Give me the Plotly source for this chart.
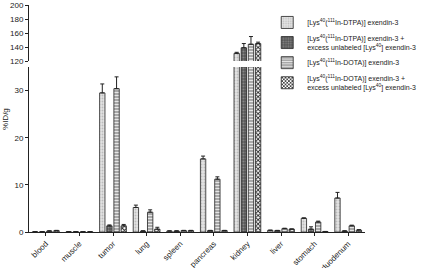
import plotly.graph_objects as go

categories = ["blood", "muscle", "tumor", "lung", "spleen", "pancreas", "kidney", "liver", "stomach", "duodenum"]

dtpa = [0.05, 0.05, 29.5, 5.2, 0.2, 15.5, 131, 0.35, 2.9, 7.2]
dtpa_err = [0.02, 0.0, 1.9, 0.5, 0.05, 0.6, 1.5, 0.05, 0.1, 1.2]
dtpa_block = [0.05, 0.05, 1.3, 0.2, 0.2, 0.3, 139, 0.3, 0.6, 0.2]
dtpa_block_err = [0.02, 0.0, 0.2, 0.05, 0.05, 0.05, 6, 0.05, 0.5, 0.05]
dota = [0.2, 0.05, 30.4, 4.2, 0.3, 11.2, 144, 0.7, 2.1, 1.3]
dota_err = [0.05, 0.0, 2.5, 0.5, 0.05, 0.5, 11, 0.1, 0.2, 0.15]
dota_block = [0.3, 0.05, 1.3, 0.6, 0.3, 0.3, 145, 0.6, 0.1, 0.4]
dota_block_err = [0.05, 0.0, 0.3, 0.4, 0.05, 0.05, 2, 0.05, 0.02, 0.1]

names = [
    "[Lys<sup>40</sup>(<sup>111</sup>In-DTPA)] exendin-3",
    "[Lys<sup>40</sup>(<sup>111</sup>In-DTPA)] exendin-3 +<br>excess unlabeled [Lys<sup>40</sup>] exendin-3",
    "[Lys<sup>40</sup>(<sup>111</sup>In-DOTA)] exendin-3",
    "[Lys<sup>40</sup>(<sup>111</sup>In-DOTA)] exendin-3 +<br>excess unlabeled [Lys<sup>40</sup>] exendin-3",
]
values = [dtpa, dtpa_block, dota, dota_block]
errors = [dtpa_err, dtpa_block_err, dota_err, dota_block_err]
patterns = [
    dict(shape=".", bgcolor="#e4e4e4", fgcolor="#bbbbbb", size=3, solidity=0.3),
    dict(shape=".", bgcolor="#555555", fgcolor="#888888", size=3, solidity=0.4),
    dict(shape="-", bgcolor="#a8a8a8", fgcolor="#e8e8e8", size=3, solidity=0.35),
    dict(shape="x", bgcolor="#ffffff", fgcolor="#222222", size=3, solidity=0.5),
]

fig = go.Figure()
for yax in ["y", "y2"]:
    for i in range(4):
        fig.add_trace(go.Bar(
            x=categories, y=values[i], name=names[i],
            xaxis="x", yaxis=yax,
            showlegend=(yax == "y"),
            legendgroup=str(i),
            marker=dict(color=patterns[i]["bgcolor"], pattern=patterns[i],
                        line=dict(color="#222222", width=0.8)),
            error_y=dict(type="data", symmetric=False, array=errors[i],
                         arrayminus=[0] * len(errors[i]),
                         color="#222222", thickness=1, width=2),
        ))

ink = "#222222"
axis_font = dict(family="Liberation Sans, Arial", size=8, color=ink)
common = dict(showline=True, linecolor=ink, linewidth=1, ticks="outside", ticklen=3,
              tickcolor=ink, tickwidth=1, showgrid=False, zeroline=False,
              tickfont=axis_font, automargin=False)
fig.update_layout(
    template="none",
    width=426, height=268,
    margin=dict(l=29, r=57, t=5, b=36),
    paper_bgcolor="white", plot_bgcolor="white",
    barmode="group", bargap=0.15, bargroupgap=0.25,
    font=axis_font,
    xaxis=dict(domain=[0, 1], anchor="y", range=[-0.5, 9.5], tickangle=-45, **common),
    yaxis=dict(domain=[0, 0.727], range=[0, 35], tickvals=[0, 10, 20, 30], **common),
    yaxis2=dict(domain=[0.753, 1], anchor="x", range=[120, 200],
                tickvals=[120, 140, 160, 180, 200], **common),
    legend=dict(x=0.709, y=0.987, xanchor="left", yanchor="top",
                font=dict(family="Liberation Sans, Arial", size=7, color=ink),
                bgcolor="rgba(0,0,0,0)", itemwidth=30, tracegroupgap=0,
                traceorder="normal"),
    annotations=[dict(text="%ID/g", textangle=-90, xref="paper", yref="paper",
                      x=-0.07, y=0.5, xanchor="center", yanchor="middle",
                      showarrow=False, font=axis_font)],
)

fig.write_html("out.html", config={"displayModeBar": False},
               post_script="document.body.style.margin='0';document.body.style.overflow='hidden';")
